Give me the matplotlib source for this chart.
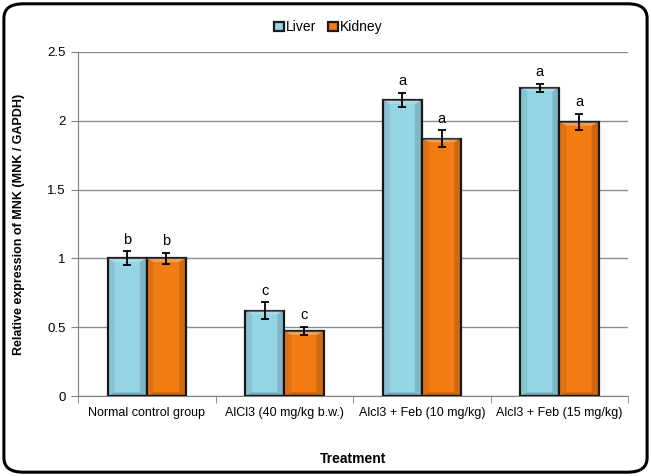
import numpy as np
import matplotlib
matplotlib.use("Agg")
import matplotlib.pyplot as plt
from matplotlib.patches import FancyBboxPatch, Polygon

plt.rcParams['font.family'] = ['Liberation Sans', 'DejaVu Sans']

# data
groups = ['Normal control group', 'AlCl3 (40 mg/kg b.w.)',
          'Alcl3 + Feb (10 mg/kg)', 'Alcl3 + Feb (15 mg/kg)']
liver = [1.00, 0.62, 2.15, 2.24]
liver_err = [0.05, 0.06, 0.05, 0.03]
liver_sig = ['b', 'c', 'a', 'a']
kidney = [1.00, 0.47, 1.87, 1.99]
kidney_err = [0.04, 0.03, 0.06, 0.06]
kidney_sig = ['b', 'c', 'a', 'a']

liver_col = '#95d4e5'
kidney_col = '#f27b12'

fig = plt.figure(figsize=(6.51, 4.76), dpi=100)
ax = fig.add_axes([0.12, 0.168, 0.845, 0.723])

x = np.arange(len(groups))
w = 0.285


def bevel(ax, xs, heights, width):
    # fake the bevelled 3D bar look: light top, dark bottom, shaded sides
    bx = 7 / 137.5          # ~7 px in category units
    by = 7 / 138 * 0.5      # ~7 px in value units
    for xc, h in zip(xs, heights):
        x0, x1 = xc - width / 2, xc + width / 2
        pieces = [
            ([(x0, h), (x1, h), (x1 - bx, h - by), (x0 + bx, h - by)], 'white', 0.30),
            ([(x0, 0), (x1, 0), (x1 - bx, by), (x0 + bx, by)], 'black', 0.22),
            ([(x0, 0), (x0 + bx, by), (x0 + bx, h - by), (x0, h)], 'black', 0.08),
            ([(x1, 0), (x1 - bx, by), (x1 - bx, h - by), (x1, h)], 'black', 0.14),
        ]
        for pts, c, a in pieces:
            ax.add_patch(Polygon(pts, closed=True, facecolor=c, alpha=a,
                                 edgecolor='none', zorder=3))


ax.bar(x - w / 2, liver, w, color=liver_col, edgecolor='#1a1a1a',
       linewidth=1.6, zorder=2, label='Liver')
ax.bar(x + w / 2, kidney, w, color=kidney_col, edgecolor='#1a1a1a',
       linewidth=1.6, zorder=2, label='Kidney')
bevel(ax, x - w / 2, liver, w)
bevel(ax, x + w / 2, kidney, w)

ax.errorbar(x - w / 2, liver, yerr=liver_err, fmt='none', ecolor='black',
            elinewidth=1.3, capsize=3, capthick=1.3, zorder=4)
ax.errorbar(x + w / 2, kidney, yerr=kidney_err, fmt='none', ecolor='black',
            elinewidth=1.3, capsize=3, capthick=1.3, zorder=4)

for xi, v, e, s in zip(x - w / 2, liver, liver_err, liver_sig):
    ax.text(xi, v + e + 0.035, s, ha='center', va='bottom', fontsize=10.5)
for xi, v, e, s in zip(x + w / 2, kidney, kidney_err, kidney_sig):
    ax.text(xi, v + e + 0.035, s, ha='center', va='bottom', fontsize=10.5)

ax.set_xlim(-0.5, len(groups) - 0.5)
ax.set_ylim(0, 2.5)
ax.set_yticks([0, 0.5, 1, 1.5, 2, 2.5])
ax.set_yticklabels(['0', '0.5', '1', '1.5', '2', '2.5'])
ax.yaxis.grid(True, color='#8c8c8c', linewidth=1.0, zorder=0)
ax.set_axisbelow(True)

ax.set_xticks(x)
ax.set_xticklabels(groups)
ax.set_xticks(np.arange(len(groups) + 1) - 0.5, minor=True)
ax.tick_params(axis='x', which='major', length=0, labelsize=9, pad=8)
ax.tick_params(axis='x', which='minor', length=5, color='#808080')
ax.tick_params(axis='y', length=5, color='#808080', labelsize=9.5, pad=4)

for side in ['top', 'right']:
    ax.spines[side].set_visible(False)
ax.spines['left'].set_color('#808080')
ax.spines['bottom'].set_color('#808080')

ax.set_ylabel('Relative expression of MNK (MNK / GAPDH)', fontsize=9,
              fontweight='bold', labelpad=16)
ax.set_xlabel('Treatment', fontsize=10, fontweight='bold', labelpad=24)

ax.legend(loc='lower center', bbox_to_anchor=(0.455, 1.035), ncol=2,
          frameon=False, fontsize=10, handlelength=0.7, handleheight=0.7,
          handletextpad=0.2, columnspacing=0.8, borderaxespad=0)

border = FancyBboxPatch((0.006, 0.008), 0.988, 0.984,
                        boxstyle='round,pad=0,rounding_size=0.03',
                        transform=fig.transFigure, facecolor='none',
                        edgecolor='black', linewidth=2.2)
fig.patches.append(border)

fig.savefig('out.png', dpi=100)
